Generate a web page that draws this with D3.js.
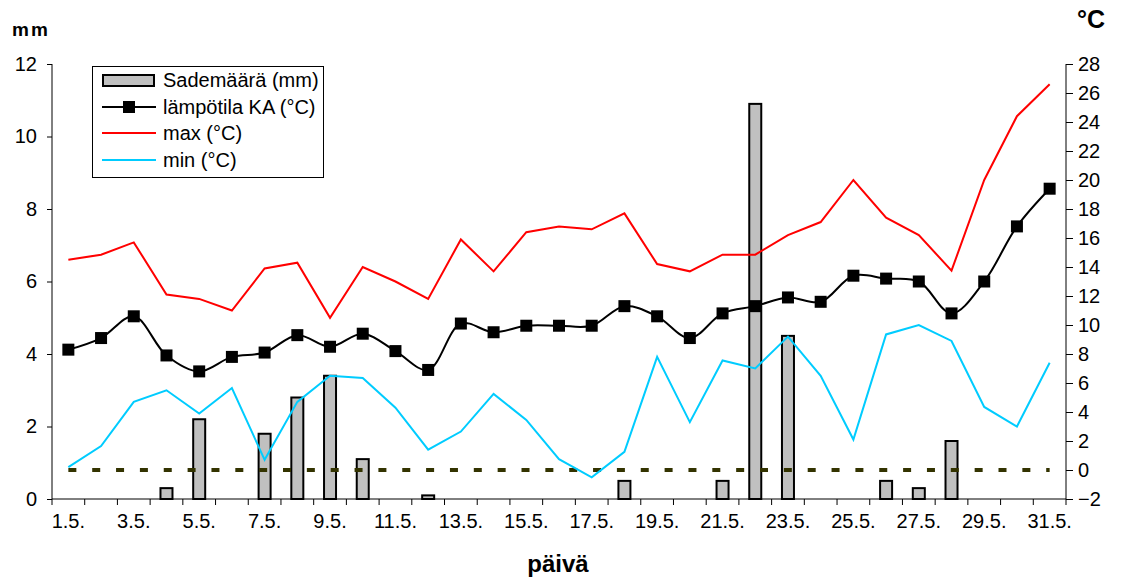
<!DOCTYPE html>
<html>
<head>
<meta charset="utf-8">
<script src="https://cdn.jsdelivr.net/npm/d3@7"></script>
<style>
  body { margin: 0; background: #fff; }
  svg text { font-family: "Liberation Sans", Arial, sans-serif; fill: #000; }
</style>
</head>
<body>
<svg id="chart" width="1122" height="579"></svg>
<script>
// days of May
var days = d3.range(1, 32);
var dayLabels = days.map(d => d % 2 === 1 ? d + ".5." : "");

// rain (mm), 0 = no bar
var rain = [0, 0, 0, 0.3, 2.2, 0, 1.8, 2.8, 3.4, 1.1, 0, 0.1, 0, 0, 0, 0, 0, 0.5, 0, 0, 0.5, 10.9, 4.5, 0, 0, 0.5, 0.3, 1.6, 0, 0, 0];

// mean temperature (°C)
var tempMean = [8.3, 9.1, 10.6, 7.9, 6.8, 7.8, 8.1, 9.3, 8.5, 9.4, 8.2, 6.9, 10.1, 9.5, 9.95, 9.95, 9.95, 11.3, 10.6, 9.1, 10.8, 11.3, 11.9, 11.6, 13.4, 13.2, 13.0, 10.8, 13.0, 16.8, 19.4];

// max temperature
var tempMax = [14.5, 14.85, 15.7, 12.1, 11.8, 11.0, 13.9, 14.3, 10.5, 14.0, 13.0, 11.8, 15.9, 13.7, 16.4, 16.8, 16.6, 17.7, 14.2, 13.7, 14.85, 14.85, 16.2, 17.1, 20.0, 17.4, 16.2, 13.75, 20.0, 24.4, 26.6];

// min temperature
var tempMin = [0.2, 1.65, 4.7, 5.5, 3.9, 5.65, 0.7, 4.7, 6.5, 6.35, 4.3, 1.4, 2.65, 5.25, 3.45, 0.75, -0.5, 1.25, 7.8, 3.3, 7.55, 7.0, 9.2, 6.5, 2.1, 9.35, 10.0, 8.9, 4.35, 3.0, 7.4];

var mmTicks = [0, 2, 4, 6, 8, 10, 12];
var cTicks = d3.range(-2, 29, 2);

var legendItems = ["Sademäärä (mm)", "lämpötila KA (°C)", "max (°C)", "min (°C)"];

var svg = d3.select("#chart");

// plot area
var pLeft = 52, pRight = 1066, pTop = 64, pBottom = 499;

var x = d3.scaleBand()
    .domain(days)
    .range([pLeft, pRight]);

var yL = d3.scaleLinear().domain([0, 12]).range([pBottom, pTop]);
var yR = d3.scaleLinear().domain([-2, 28]).range([pBottom, pTop]);

var cx = d => x(d) + x.bandwidth() / 2;

// bars
var barW = 12;
svg.append("g")
    .selectAll("rect")
    .data(days.filter((d, i) => rain[i] > 0))
    .enter()
    .append("rect")
    .attr("x", d => cx(d) - barW / 2)
    .attr("y", d => yL(rain[d - 1]))
    .attr("width", barW)
    .attr("height", d => pBottom - yL(rain[d - 1]))
    .attr("fill", "#c0c0c0")
    .attr("stroke", "#000")
    .attr("stroke-width", 2);

// zero line (dashed)
svg.append("line")
    .attr("x1", cx(1))
    .attr("x2", cx(31))
    .attr("y1", yR(0))
    .attr("y2", yR(0))
    .attr("stroke", "#333300")
    .attr("stroke-width", 4)
    .attr("stroke-dasharray", "8,15.85");

// temp lines
var lineStraight = d3.line().x((d, i) => cx(days[i])).y(d => yR(d));
svg.append("path")
    .attr("d", lineStraight(tempMax))
    .attr("fill", "none")
    .attr("stroke", "#ff0000")
    .attr("stroke-width", 2);

svg.append("path")
    .attr("d", lineStraight(tempMin))
    .attr("fill", "none")
    .attr("stroke", "#00ccff")
    .attr("stroke-width", 2);

var lineMean = d3.line()
    .x((d, i) => cx(days[i]))
    .y(d => yR(d))
    .curve(d3.curveCatmullRom.alpha(0.5));
svg.append("path")
    .attr("d", lineMean(tempMean))
    .attr("fill", "none")
    .attr("stroke", "#000")
    .attr("stroke-width", 2);

var mk = 12;
svg.append("g")
    .selectAll("rect")
    .data(tempMean)
    .enter()
    .append("rect")
    .attr("x", (d, i) => cx(days[i]) - mk / 2)
    .attr("y", d => yR(d) - mk / 2)
    .attr("width", mk)
    .attr("height", mk)
    .attr("fill", "#000");

// axes
var axisL = svg.append("g")
    .attr("transform", "translate(" + pLeft + ",0)")
    .call(d3.axisLeft(yL).tickValues(mmTicks).tickSize(5).tickPadding(10));

var axisR = svg.append("g")
    .attr("transform", "translate(" + pRight + ",0)")
    .call(d3.axisRight(yR).tickValues(cTicks).tickSize(7).tickPadding(5));

var axisB = svg.append("g")
    .attr("transform", "translate(0," + pBottom + ")")
    .call(d3.axisBottom(x).tickFormat((d, i) => dayLabels[i]).tickSize(0).tickPadding(15));

// bottom ticks sit on the category boundaries
svg.append("g")
    .selectAll("line")
    .data(days.concat([32]))
    .enter()
    .append("line")
    .attr("x1", d => d === 32 ? pRight : x(d))
    .attr("x2", d => d === 32 ? pRight : x(d))
    .attr("y1", pBottom)
    .attr("y2", pBottom + 6)
    .attr("stroke", "#000");

[axisL, axisR, axisB].forEach(a => {
    a.select(".domain").attr("stroke", "#000").attr("stroke-width", 1);
    a.selectAll(".tick line").attr("stroke", "#000");
    a.selectAll("text")
        .attr("font-size", 20)
        .attr("font-family", "Liberation Sans, Arial, sans-serif")
        .attr("fill", "#000");
});
axisB.select(".domain").attr("d", "M" + pLeft + ",0H" + pRight);
axisL.select(".domain").attr("d", "M0," + pTop + "V" + pBottom);
axisR.select(".domain").attr("d", "M0," + pTop + "V" + pBottom);

// titles
svg.append("text")
    .attr("x", 12).attr("y", 36)
    .attr("font-size", 19).attr("font-weight", "bold")
    .attr("letter-spacing", 2)
    .text("mm");

svg.append("text")
    .attr("x", 1077).attr("y", 28)
    .attr("font-size", 25).attr("font-weight", "bold")
    .text("°C");

svg.append("text")
    .attr("x", 558).attr("y", 572)
    .attr("text-anchor", "middle")
    .attr("font-size", 24).attr("font-weight", "bold")
    .text("päivä");

// legend
var lg = svg.append("g");
lg.append("rect")
    .attr("x", 92.5).attr("y", 66.5)
    .attr("width", 231).attr("height", 111)
    .attr("fill", "#fff").attr("stroke", "#000");

var rowY = [80, 107, 133, 160];
lg.append("rect")
    .attr("x", 103).attr("y", rowY[0] - 5)
    .attr("width", 51).attr("height", 11)
    .attr("fill", "#c0c0c0").attr("stroke", "#000").attr("stroke-width", 2);
lg.append("line")
    .attr("x1", 102).attr("x2", 156).attr("y1", rowY[1]).attr("y2", rowY[1])
    .attr("stroke", "#000").attr("stroke-width", 2);
lg.append("rect")
    .attr("x", 129 - mk / 2).attr("y", rowY[1] - mk / 2)
    .attr("width", mk).attr("height", mk).attr("fill", "#000");
lg.append("line")
    .attr("x1", 102).attr("x2", 156).attr("y1", rowY[2]).attr("y2", rowY[2])
    .attr("stroke", "#ff0000").attr("stroke-width", 2);
lg.append("line")
    .attr("x1", 102).attr("x2", 156).attr("y1", rowY[3]).attr("y2", rowY[3])
    .attr("stroke", "#00ccff").attr("stroke-width", 2);

lg.selectAll("text.lab")
    .data(legendItems)
    .enter()
    .append("text")
    .attr("class", "lab")
    .attr("x", 163)
    .attr("y", (d, i) => rowY[i] + 7)
    .attr("font-size", 20)
    .text(d => d);
</script>
</body>
</html>
